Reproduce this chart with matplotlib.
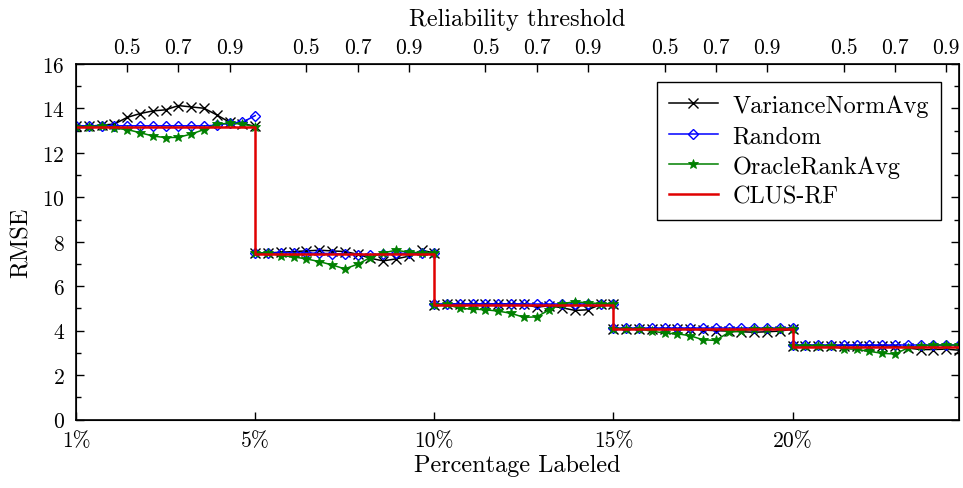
import matplotlib
matplotlib.use('Agg')
import matplotlib.pyplot as plt
import numpy as np

plt.rcParams['font.family'] = ['cmr10', 'DejaVu Serif']
plt.rcParams['axes.formatter.use_mathtext'] = True

# reliability thresholds inside each labeled-percentage block
thresholds = [0.30, 0.35, 0.40, 0.45, 0.50, 0.55, 0.60, 0.65,
              0.70, 0.75, 0.80, 0.85, 0.90, 0.95, 1.00]
pct_labels = ['1%', '5%', '10%', '15%', '20%']
top_ticks = [0.5, 0.7, 0.9]

variance_norm_avg = [
    [13.20, 13.20, 13.25, 13.30, 13.60, 13.77, 13.89, 13.94, 14.13, 14.07, 14.01, 13.71, 13.38, 13.32, 13.20],
    [7.50, 7.50, 7.53, 7.56, 7.59, 7.62, 7.59, 7.56, 7.44, 7.26, 7.14, 7.23, 7.35, 7.62, 7.50],
    [5.15, 5.20, 5.20, 5.20, 5.20, 5.21, 5.21, 5.18, 5.06, 5.12, 5.03, 4.91, 4.94, 5.18, 5.22],
    [4.08, 4.08, 4.08, 4.08, 4.08, 4.08, 4.08, 4.03, 4.00, 3.98, 3.95, 3.93, 3.95, 3.98, 4.07],
    [3.33, 3.33, 3.33, 3.33, 3.33, 3.33, 3.33, 3.33, 3.30, 3.22, 3.15, 3.15, 3.17, 3.12],
]
random_sel = [
    [13.22, 13.22, 13.22, 13.22, 13.22, 13.22, 13.22, 13.22, 13.22, 13.22, 13.22, 13.24, 13.35, 13.38, 13.68],
    [7.50, 7.50, 7.50, 7.50, 7.50, 7.48, 7.47, 7.45, 7.42, 7.42, 7.45, 7.48, 7.48, 7.48, 7.50],
    [5.20, 5.20, 5.20, 5.20, 5.20, 5.20, 5.20, 5.20, 5.20, 5.20, 5.20, 5.20, 5.20, 5.22, 5.22],
    [4.12, 4.12, 4.12, 4.12, 4.12, 4.12, 4.12, 4.12, 4.12, 4.12, 4.12, 4.12, 4.12, 4.12, 4.12],
    [3.35, 3.35, 3.35, 3.35, 3.35, 3.35, 3.35, 3.35, 3.35, 3.35, 3.35, 3.35, 3.35, 3.35],
]
oracle_rank_avg = [
    [13.17, 13.17, 13.21, 13.11, 13.05, 12.91, 12.76, 12.69, 12.70, 12.85, 13.05, 13.30, 13.33, 13.30, 13.17],
    [7.50, 7.50, 7.38, 7.32, 7.23, 7.11, 6.96, 6.78, 6.99, 7.29, 7.50, 7.62, 7.53, 7.50, 7.50],
    [5.15, 5.18, 5.00, 4.97, 4.94, 4.88, 4.78, 4.60, 4.62, 4.94, 5.22, 5.30, 5.25, 5.22, 5.20],
    [4.07, 4.07, 4.07, 3.98, 3.89, 3.86, 3.77, 3.59, 3.56, 3.92, 4.00, 4.07, 4.07, 4.08, 4.08],
    [3.33, 3.33, 3.33, 3.31, 3.19, 3.16, 3.07, 2.98, 2.95, 3.22, 3.31, 3.35, 3.35, 3.35],
]
clus_rf = [13.15, 7.45, 5.15, 4.07, 3.28]

t0, t1 = thresholds[0], thresholds[-1]


def block_x(g, n):
    return [g + (t - t0) / (t1 - t0) for t in thresholds[:n]]


fig = plt.figure(figsize=(9.63, 4.89), dpi=100)
ax = fig.add_axes([0.079, 0.14, 0.917, 0.727])

styles = [
    (variance_norm_avg, 'VarianceNormAvg', dict(color='black', marker='x', ms=7, mew=1.0)),
    (random_sel, 'Random', dict(color='#0000ff', marker='D', ms=5, mfc='none', mew=1.0)),
    (oracle_rank_avg, 'OracleRankAvg', dict(color='#008000', marker='*', ms=7, mew=0.6)),
]
for series, name, st in styles:
    for g, vals in enumerate(series):
        ax.plot(block_x(g, len(vals)), vals, lw=1.1, label=name if g == 0 else None, **st)

# CLUS-RF baseline: one level per block, drawn as a step line
rf_x, rf_y = [], []
for g, v in enumerate(clus_rf):
    rf_x += [g, g + 1]
    rf_y += [v, v]
ax.plot(rf_x, rf_y, color='#e00000', lw=1.8, label='CLUS-RF', zorder=5)

ax.set_xlim(0, 4.93)
ax.set_ylim(0, 16)
ax.set_xticks(range(len(pct_labels)))
ax.set_xticklabels(pct_labels)
ax.set_yticks(np.arange(0, 17, 2))
ax.set_yticks(np.arange(1, 16, 2), minor=True)
ax.tick_params(axis='both', which='both', direction='in', labelsize=15.5, width=1.0)
ax.tick_params(axis='x', which='major', length=6, pad=8, top=False)
ax.tick_params(axis='y', which='major', length=6, pad=8, right=True)
ax.tick_params(axis='y', which='minor', length=3.5, right=True)
ax.set_xlabel('Percentage Labeled', fontsize=17.5, labelpad=3)
ax.set_ylabel('RMSE', fontsize=17.5, labelpad=7)
for sp in ax.spines.values():
    sp.set_linewidth(1.2)

ax2 = ax.twiny()
ax2.set_xlim(ax.get_xlim())
pos = [g + (t - t0) / (t1 - t0) for g in range(len(pct_labels)) for t in top_ticks]
ax2.set_xticks(pos)
ax2.set_xticklabels([str(t) for g in range(len(pct_labels)) for t in top_ticks])
ax2.tick_params(axis='x', direction='in', length=6, width=1.0, labelsize=15.5, pad=5)
ax2.set_xlabel('Reliability threshold', fontsize=17.5, labelpad=9)

leg = ax.legend(loc='upper right', fontsize=17.5, frameon=True, fancybox=False,
                edgecolor='black', framealpha=1, borderaxespad=0.75,
                handlelength=2.0, handletextpad=0.6, labelspacing=0.33, borderpad=0.5)
leg.get_frame().set_linewidth(1.0)

fig.savefig('out.png', dpi=100, facecolor='white')
